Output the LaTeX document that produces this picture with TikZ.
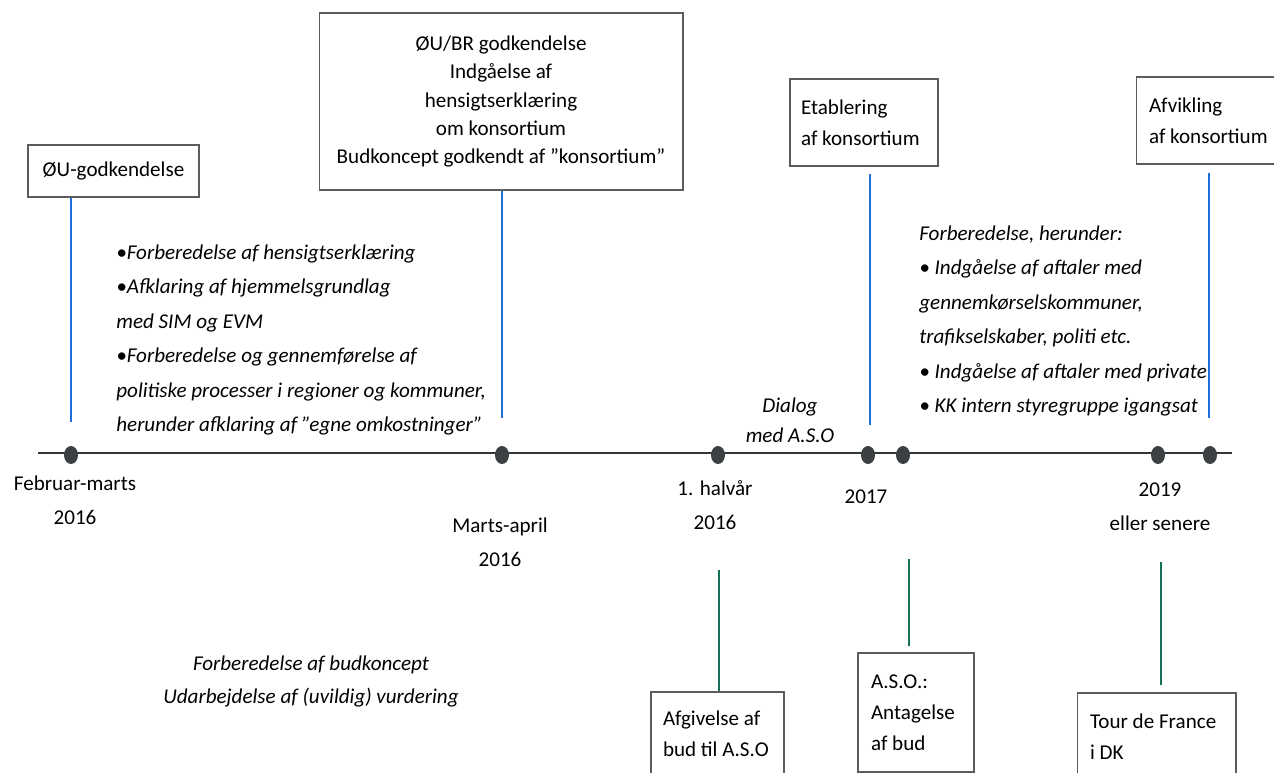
\documentclass[tikz,border=0pt]{standalone}
\usepackage{fontspec}
\setmainfont{Carlito}
\usetikzlibrary{shapes.geometric,calc}

\definecolor{axisgray}{HTML}{34373A}
\definecolor{dotgray}{HTML}{3B4043}
\definecolor{mileblue}{HTML}{1F6FDB}
\definecolor{milegreen}{HTML}{17705A}
\definecolor{framegray}{HTML}{5C5C5C}

\tikzset{
    evbox/.style={draw=framegray, line width=0.6pt, inner ysep=0pt, font=\fontsize{12}{17.5}\selectfont},
    leftbox/.style={evbox, align=flush left},
    note/.style={align=left, inner sep=0pt, font=\fontsize{12}{19.6}\selectfont\itshape},
    datelbl/.style={align=center, inner sep=0pt, font=\fontsize{12}{19.6}\selectfont},
    dot/.style={ellipse, fill=dotgray, inner sep=0pt, minimum width=0.28cm, minimum height=0.36cm},
    upline/.style={mileblue, line width=1.5pt},
    downline/.style={milegreen, line width=1.4pt}
}

\begin{document}
\begin{tikzpicture}[x=0.02cm, y=-0.02cm]
    \useasboundingbox (0,0) rectangle (1274,773);
    \clip (0,0) rectangle (1274,773);
    % timeline
    \draw[axisgray, line width=1.6pt] (38,453) -- (1232,453);
    \foreach \n/\x in {1/71,2/502,3/718,4/868,5/903,6/1158,7/1210}
        \node[dot] (d\n) at (\x,455) {};
    \node[datelbl] (lbl1) at (75,500.5) {Februar-marts\\2016};
    \node[datelbl] (lbl2) at (500,542.5) {Marts-april\\2016};
    \node[datelbl] (lbl3) at (715,505) {1. halvår\\2016};
    \node[datelbl] (lbl4) at (866,497) {2017};
    \node[datelbl] (lbl6) at (1160,507) {2019\\eller senere};

    % milestones above
    \node[evbox, minimum width=3.42cm, minimum height=1.04cm, inner xsep=0pt] (oug) at (113.5,171) {ØU-godkendelse};
    \node[evbox, align=center, minimum width=7.28cm, minimum height=3.54cm, inner xsep=0pt,
          font=\fontsize{12}{16.2}\selectfont] (obr) at (501,101.5)
        {ØU/BR godkendelse\\Indgåelse af\\hensigtserklæring\\om konsortium\\Budkoncept godkendt af ”konsortium”};
    \node[leftbox, text width=2.52cm, inner xsep=0.22cm, minimum height=1.74cm] (etab) at (864,122.5) {Etablering\\\mbox{af konsortium}};
    \node[leftbox, text width=2.6cm, inner xsep=0.26cm, minimum height=1.74cm] (afv) at (1214,120.5) {Afvikling\\\mbox{af konsortium}};
    \coordinate (t1) at (71,422);
    \coordinate (t2) at (502,418);
    \coordinate (t4) at (870,425);
    \coordinate (t7) at (1209,418);
    \draw[upline] (oug.south -| t1) -- (t1);
    \draw[upline] (obr.south -| t2) -- (t2);
    \draw[upline] ($(etab.south -| t4)+(0,7)$) -- (t4);
    \draw[upline] ($(afv.south -| t7)+(0,8)$) -- (t7);

    % milestones below
    \node[leftbox, text width=2.18cm, inner xsep=0.24cm, minimum height=1.68cm] (afg) at (717.5,734) {\mbox{Afgivelse af}\\\mbox{bud til A.S.O}};
    \node[leftbox, text width=1.8cm, inner xsep=0.26cm, minimum height=2.38cm] (aso) at (916,712.5) {A.S.O.:\\Antagelse\\\mbox{af bud}};
    \node[leftbox, text width=2.66cm, inner xsep=0.26cm, minimum height=1.74cm] (tdf) at (1156.5,736.5) {\mbox{Tour de France}\\i DK};
    \coordinate (g3) at (719,570);
    \coordinate (g5) at (909,559);
    \coordinate (g6) at (1161,562);
    \draw[downline] (g3) -- (afg.north -| g3);
    \draw[downline] (g5) -- ($(aso.north -| g5)+(0,-6)$);
    \draw[downline] (g6) -- ($(tdf.north -| g6)+(0,-7)$);

    % activities
    \node[note, anchor=west] (prep1) at (116,340)
        {•Forberedelse af hensigtserklæring\\•Afklaring af hjemmelsgrundlag\\med SIM og EVM\\•Forberedelse og gennemførelse af\\politiske processer i regioner og kommuner,\\herunder afklaring af ”egne omkostninger”};
    \node[note, anchor=west] (prep2) at (919,321)
        {Forberedelse, herunder:\\• Indgåelse af aftaler med\\gennemkørselskommuner,\\trafikselskaber, politi etc.\\• Indgåelse af aftaler med private\\• KK intern styregruppe igangsat};
    \node[note, align=center, font=\fontsize{12}{17}\selectfont\itshape] (dialog) at (790,420) {Dialog\\med A.S.O};
    \node[note, align=center, font=\fontsize{12}{18.6}\selectfont\itshape] (budk) at (311,681.5)
        {Forberedelse af budkoncept\\Udarbejdelse af (uvildig) vurdering};
\end{tikzpicture}
\end{document}
